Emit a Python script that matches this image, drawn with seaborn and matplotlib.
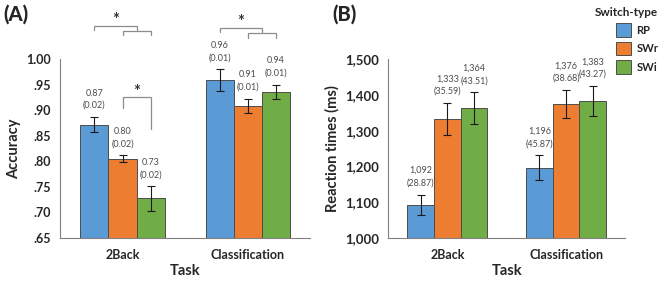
import numpy as np
import pandas as pd
import matplotlib.pyplot as plt
import seaborn as sns
from matplotlib.ticker import FuncFormatter

# dane
tasks = ['2Back', 'Classification']
switch_types = ['RP', 'SWr', 'SWi']
acc_mean = [[0.872, 0.805, 0.727], [0.960, 0.909, 0.936]]
acc_err = [[0.015, 0.007, 0.024], [0.021, 0.014, 0.014]]
acc_labels = [['0.87\n(0.02)', '0.80\n(0.02)', '0.73\n(0.02)'],
              ['0.96\n(0.01)', '0.91\n(0.01)', '0.94\n(0.01)']]
rt_mean = [[1092, 1333, 1364], [1196, 1376, 1383]]
rt_err = [[29, 45, 44], [35, 39, 43]]
rt_labels = [['1,092\n(28.87)', '1,333\n(35.59)', '1,364\n(43.51)'],
             ['1,196\n(45.87)', '1,376\n(38.68)', '1,383\n(43.27)']]
colors = ['#5B9BD5', '#ED7D31', '#70AD47']

sns.set_style('white')
plt.rcParams['font.family'] = ['Lato', 'DejaVu Sans']


def make_df(mean, err, labels):
    rows = []
    for i, t in enumerate(tasks):
        for j, s in enumerate(switch_types):
            rows.append({'Task': t, 'Switch-type': s, 'value': mean[i][j],
                         'err': err[i][j], 'label': labels[i][j]})
    return pd.DataFrame(rows)


def draw_panel(ax, df, ylabel, ytick_size):
    sns.barplot(data=df, x='Task', y='value', hue='Switch-type', order=tasks,
                hue_order=switch_types, palette=colors, width=0.675, saturation=1,
                errorbar=None, edgecolor='0.3', linewidth=0.7, ax=ax, legend=True)
    centers = {}
    bar_conts = list(ax.containers)
    for j, cont in enumerate(bar_conts):
        for i, bar in enumerate(cont):
            x = bar.get_x() + bar.get_width() / 2
            centers[(i, j)] = x
            row = df[(df['Task'] == tasks[i]) & (df['Switch-type'] == switch_types[j])].iloc[0]
            ax.errorbar(x, row['value'], yerr=row['err'], color='0.1', lw=0.8,
                        capsize=3, capthick=0.8)
            ax.annotate(row['label'], (x, row['value'] + row['err']),
                        xytext=(0, 5), textcoords='offset points', ha='center',
                        va='bottom', fontsize=6.5, color='0.3', linespacing=1.5)
    ax.set_xlim(-0.5, 1.5)
    ax.set_xticks([0, 1])
    ax.set_xticklabels(tasks, fontsize=9, fontweight='bold')
    ax.set_xticks([0.5, 1.5], minor=True)
    ax.tick_params(axis='x', which='major', length=0, pad=8)
    ax.tick_params(axis='x', which='minor', length=4, direction='out', color='0.5')
    ax.tick_params(axis='y', length=3.5, direction='out', color='0.5',
                   labelsize=ytick_size, pad=3)
    ax.set_xlabel('Task', fontsize=10.5, fontweight='bold', labelpad=2)
    ax.set_ylabel(ylabel, fontsize=10.5, fontweight='bold')
    for side in ['top', 'right']:
        ax.spines[side].set_visible(False)
    for side in ['left', 'bottom']:
        ax.spines[side].set_color('0.5')
        ax.spines[side].set_linewidth(0.8)
    return centers


def bracket(ax, x0, x1, y, yl0, yl1, color='0.55'):
    ax.plot([x0, x0, x1, x1], [yl0, y, y, yl1], color=color, lw=0.9,
            clip_on=False, solid_joinstyle='miter')


fig = plt.figure(figsize=(6.59, 2.83), dpi=100)
ax1 = fig.add_axes([0.091, 0.16, 0.38, 0.63])
ax2 = fig.add_axes([0.589, 0.16, 0.36, 0.63])

df_acc = make_df(acc_mean, acc_err, acc_labels)
df_rt = make_df(rt_mean, rt_err, rt_labels)

c1 = draw_panel(ax1, df_acc, 'Accuracy', 9)
ax1.set_ylim(0.65, 1.00)
ax1.set_yticks(np.arange(0.65, 1.001, 0.05))
ax1.yaxis.set_major_formatter(FuncFormatter(lambda v, p: ('%.2f' % v).lstrip('0')))
for lab in ax1.get_yticklabels():
    lab.set_fontweight('bold')
ax1.get_legend().remove()

# nawiasy istotnosci
for i in range(2):
    rp, swr, swi = c1[(i, 0)], c1[(i, 1)], c1[(i, 2)]
    mid = (swr + swi) / 2
    top = 1.066 if i == 0 else 1.061
    bracket(ax1, rp, mid, top, top - 0.008, top - 0.008)
    bracket(ax1, swr, swi, top - 0.010, top - 0.018, top - 0.018)
    ax1.text((rp + mid) / 2, top - 0.004, '*', ha='center', va='bottom',
             fontsize=12, fontweight='bold', color='0.2', clip_on=False)
bracket(ax1, c1[(0, 1)], c1[(0, 2)], 0.927, 0.904, 0.863)
ax1.text((c1[(0, 1)] + c1[(0, 2)]) / 2, 0.921, '*', ha='center', va='bottom',
         fontsize=12, fontweight='bold', color='0.2')

c2 = draw_panel(ax2, df_rt, 'Reaction times (ms)', 9.5)
ax2.set_ylim(1000, 1500)
ax2.set_yticks(np.arange(1000, 1501, 100))
ax2.yaxis.set_major_formatter(FuncFormatter(lambda v, p: '{:,.0f}'.format(v)))
for lab in ax2.get_yticklabels():
    lab.set_fontweight('bold')
leg = ax2.legend(title='Switch-type', loc='upper right', bbox_to_anchor=(0.999, 0.975),
                 bbox_transform=fig.transFigure, frameon=False, fontsize=8,
                 title_fontsize=8.5, handlelength=1.3, handleheight=1.5,
                 labelspacing=0.45, handletextpad=0.5, borderpad=0, borderaxespad=0,
                 alignment='right')
leg.get_title().set_fontweight('bold')
for t in leg.get_texts():
    t.set_fontweight('bold')

fig.text(0.005, 0.985, '(A)', fontsize=14.5, fontweight='black', va='top')
fig.text(0.505, 0.985, '(B)', fontsize=14.5, fontweight='black', va='top')

fig.savefig('out.png', dpi=100)
